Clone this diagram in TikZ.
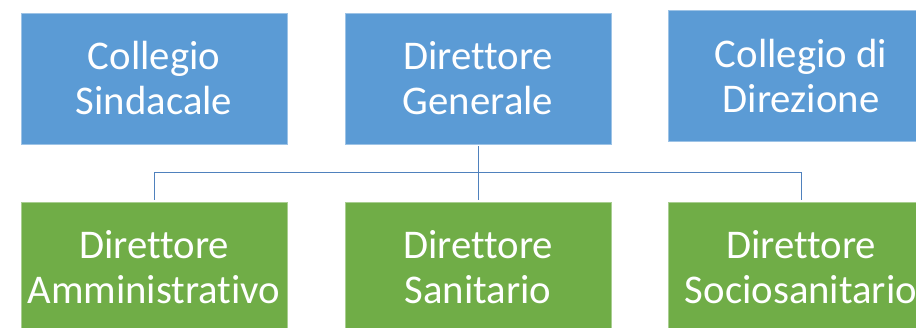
\documentclass[tikz,border=0pt]{standalone}
\usepackage{fontspec}
\setmainfont[Ligatures=NoCommon]{Carlito}
\definecolor{boxblue}{HTML}{5B9BD5}
\definecolor{boxgreen}{HTML}{70AD47}
\definecolor{linkblue}{HTML}{4F81BD}
\tikzset{
  unit/.style={minimum width=266pt, minimum height=131pt, inner sep=0pt,
    align=center, text=white, font=\fontsize{40.75}{45}\selectfont},
  topbox/.style={unit, fill=boxblue, draw=boxblue!60!white, line width=0.4pt},
  subbox/.style={unit, fill=boxgreen, draw=boxgreen!60!white, line width=0.4pt},
  link/.style={draw=linkblue, line width=1pt}
}
\begin{document}
\begin{tikzpicture}[x=1pt, y=1pt]
    \useasboundingbox (0,0) rectangle (916,327);

    % Top row
    \node[topbox] (collegioS) at (154,248.5) {Collegio\\Sindacale};
    \node[topbox] (dirGen) at (478,248.5) {Direttore\\Generale};
    \node[topbox] (collegioD) at (801,251.5) {Collegio di\\Direzione};

    % Bottom row
    \node[subbox] (dirAmm) at (154,59.5) {Direttore\\Amministrativo};
    \node[subbox] (dirSan) at (478,59.5) {Direttore\\Sanitario};
    \node[subbox] (dirSoc) at (801,59.5) {Direttore\\Sociosanitario};

    % Connectors
    \coordinate (hub) at (dirGen.south |- 0,154);
    \draw[link, shorten <=2pt, shorten >=2pt] (dirGen.south) -- (dirSan.north);
    \draw[link, shorten >=2pt] (hub) -| (dirAmm.north);
    \draw[link, shorten >=2pt] (hub) -| (dirSoc.north);
\end{tikzpicture}
\end{document}
